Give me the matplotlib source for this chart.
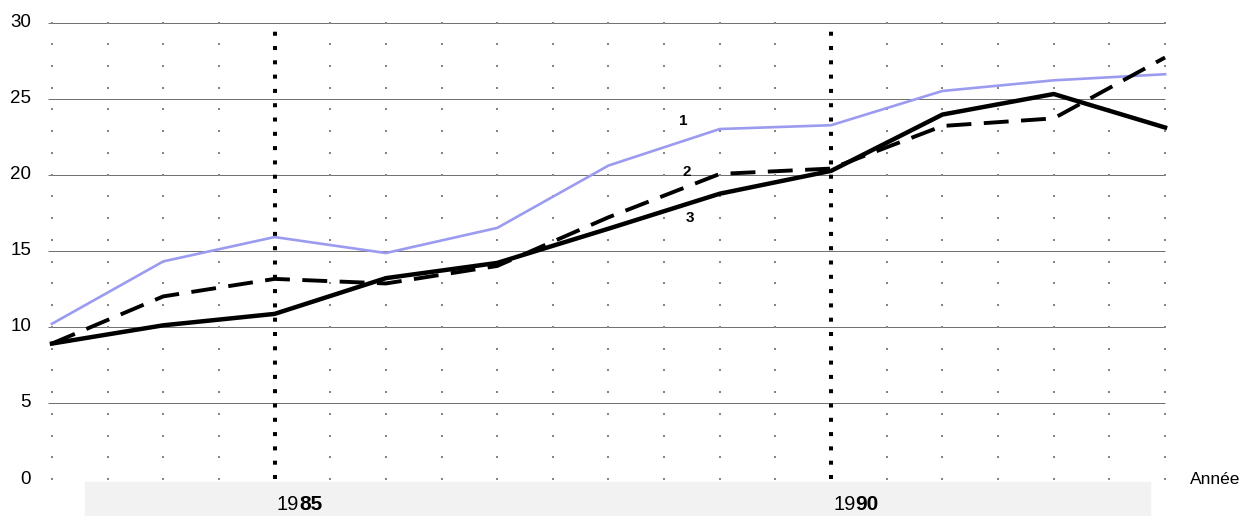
"""
plot.py

Three annual series 1983-1993 on a dotted grid, redrawn from a scanned figure.
Saves out.png.
"""

import matplotlib.pyplot as plt
import numpy as np
from matplotlib.patches import Rectangle

years = [1983, 1984, 1985, 1986, 1987, 1988, 1989, 1990, 1991, 1992, 1993]
serie_1 = [10.2, 14.3, 15.9, 14.85, 16.5, 20.6, 23.0, 23.25, 25.5, 26.2, 26.6]
serie_2 = [8.9, 12.0, 13.15, 12.85, 14.0, 17.2, 20.05, 20.4, 23.2, 23.7, 27.7]
serie_3 = [8.9, 10.1, 10.85, 13.2, 14.2, 16.45, 18.75, 20.25, 23.95, 25.3, 23.1]
y_ticks = [0, 5, 10, 15, 20, 25, 30]
marked_years = [1985, 1990]

plt.rcParams["font.family"] = ["Liberation Sans", "DejaVu Sans"]

W, H = 1250, 516
fig = plt.figure(figsize=(W / 100, H / 100), dpi=100)
ax = fig.add_axes([46.4 / W, 37 / H, 1124.2 / W, 456.5 / H])
ax.set_xlim(1982.95, 1993.05)
ax.set_ylim(0, 30)
ax.axis("off")

# light band under the axis (drawn behind the axes content)
fig.patches.append(Rectangle((85 / W, 0), (1150 - 85) / W, 34 / H,
                             transform=fig.transFigure, color="#f2f2f2", zorder=-1))

# horizontal rules
ax.hlines(y_ticks, 1982.96, 1993.0, colors="#6e6e6e", linewidth=0.7, zorder=1)

# dotted grid (half-year columns)
gx = np.arange(1983, 1993.01, 0.5)
gx = gx[~np.isin(gx, marked_years)]
gy = np.arange(0, 22) * 10 / 7
XX, YY = np.meshgrid(gx, gy)
ax.plot(XX.ravel(), YY.ravel(), "s", color="#858585", markersize=2.1,
        markeredgewidth=0, clip_on=False, zorder=1)

# heavy dotted year markers
for yr in marked_years:
    ax.plot([yr, yr], [0, 30], color="black", linewidth=2.9,
            linestyle=(0, (1, 2.55)), dash_capstyle="butt", clip_on=False, zorder=2)

ax.plot(years, serie_1, color="#9b9bf0", linewidth=1.9, zorder=3, clip_on=False)
ax.plot(years, serie_2, color="black", linewidth=2.8, linestyle=(0, (6.4, 3.2)),
        zorder=4, clip_on=False)
ax.plot(years, serie_3, color="black", linewidth=3.2, zorder=5, clip_on=False,
        solid_joinstyle="round")

# series numbers
for lab, xx, yy in [("1", 1988.67, 23.5), ("2", 1988.70, 20.2), ("3", 1988.73, 17.15)]:
    ax.text(xx, yy, lab, fontsize=11, fontweight="bold", ha="center", va="center",
            zorder=6)

# y labels
for v in y_ticks:
    ax.annotate(str(v), xy=(1982.95, v), xytext=(-11, 0), textcoords="offset points",
                ha="right", va="center", fontsize=13.5, fontweight="medium",
                annotation_clip=False)

ax.annotate("Année", xy=(1993.05, 0), xytext=(14, 0), textcoords="offset points",
            ha="left", va="center", fontsize=12.5, annotation_clip=False)

# x labels: "19" regular, last two digits bold
for yr in marked_years:
    t = ax.annotate(str(yr)[:2], xy=(yr, 0), xytext=(1.5, -18.5), textcoords="offset points",
                    ha="left", va="center", fontsize=14.5, annotation_clip=False)
    ax.annotate(str(yr)[2:], xy=(1, 0.5), xycoords=t, ha="left", va="center",
                fontsize=15, fontweight="bold", annotation_clip=False)

fig.savefig("out.png", dpi=100)
